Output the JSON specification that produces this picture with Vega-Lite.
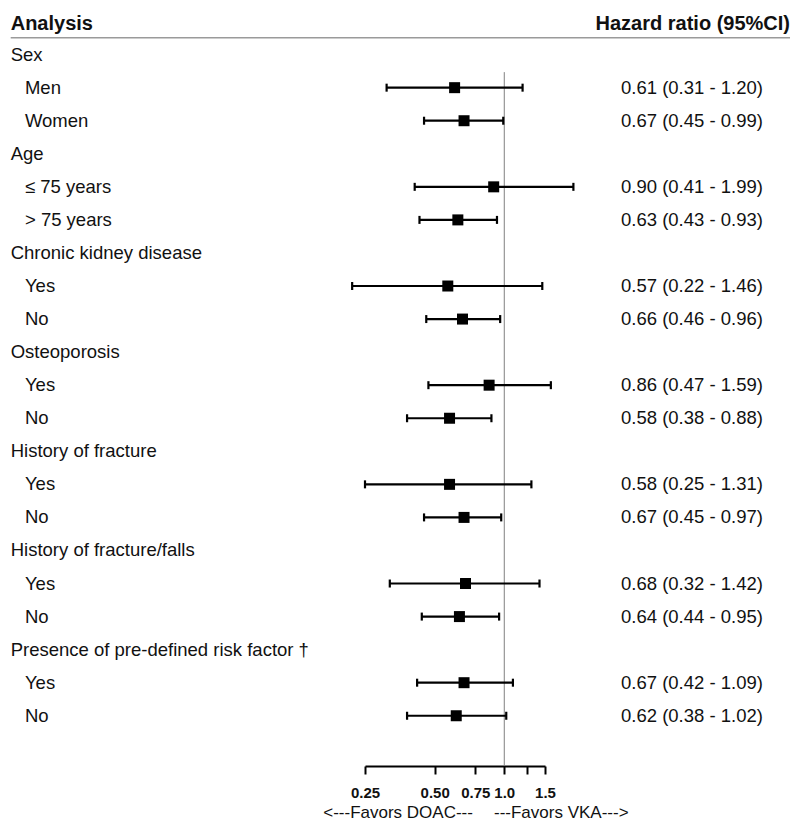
{
  "$schema": "https://vega.github.io/schema/vega-lite/v6.json",
  "autosize": {"type": "none"},
  "width": 180,
  "height": 766,
  "padding": {"left": 365, "right": 255, "top": 0, "bottom": 71},
  "background": "white",
  "config": {
    "view": {"stroke": null},
    "font": "Liberation Sans",
    "text": {"font": "Liberation Sans", "fontSize": 18.5, "color": "#111", "baseline": "middle"}
  },
  "data": {
    "values": [
      {"row": 0, "label": "Sex", "type": "header"},
      {"row": 1, "label": "Men", "type": "item", "hr": 0.61, "lo": 0.31, "hi": 1.20, "ci": "0.61 (0.31 - 1.20)"},
      {"row": 2, "label": "Women", "type": "item", "hr": 0.67, "lo": 0.45, "hi": 0.99, "ci": "0.67 (0.45 - 0.99)"},
      {"row": 3, "label": "Age", "type": "header"},
      {"row": 4, "label": "≤ 75 years", "type": "item", "hr": 0.90, "lo": 0.41, "hi": 1.99, "ci": "0.90 (0.41 - 1.99)"},
      {"row": 5, "label": "> 75 years", "type": "item", "hr": 0.63, "lo": 0.43, "hi": 0.93, "ci": "0.63 (0.43 - 0.93)"},
      {"row": 6, "label": "Chronic kidney disease", "type": "header"},
      {"row": 7, "label": "Yes", "type": "item", "hr": 0.57, "lo": 0.22, "hi": 1.46, "ci": "0.57 (0.22 - 1.46)"},
      {"row": 8, "label": "No", "type": "item", "hr": 0.66, "lo": 0.46, "hi": 0.96, "ci": "0.66 (0.46 - 0.96)"},
      {"row": 9, "label": "Osteoporosis", "type": "header"},
      {"row": 10, "label": "Yes", "type": "item", "hr": 0.86, "lo": 0.47, "hi": 1.59, "ci": "0.86 (0.47 - 1.59)"},
      {"row": 11, "label": "No", "type": "item", "hr": 0.58, "lo": 0.38, "hi": 0.88, "ci": "0.58 (0.38 - 0.88)"},
      {"row": 12, "label": "History of fracture", "type": "header"},
      {"row": 13, "label": "Yes", "type": "item", "hr": 0.58, "lo": 0.25, "hi": 1.31, "ci": "0.58 (0.25 - 1.31)"},
      {"row": 14, "label": "No", "type": "item", "hr": 0.67, "lo": 0.45, "hi": 0.97, "ci": "0.67 (0.45 - 0.97)"},
      {"row": 15, "label": "History of fracture/falls", "type": "header"},
      {"row": 16, "label": "Yes", "type": "item", "hr": 0.68, "lo": 0.32, "hi": 1.42, "ci": "0.68 (0.32 - 1.42)"},
      {"row": 17, "label": "No", "type": "item", "hr": 0.64, "lo": 0.44, "hi": 0.95, "ci": "0.64 (0.44 - 0.95)"},
      {"row": 18, "label": "Presence of pre-defined risk factor †", "type": "header"},
      {"row": 19, "label": "Yes", "type": "item", "hr": 0.67, "lo": 0.42, "hi": 1.09, "ci": "0.67 (0.42 - 1.09)"},
      {"row": 20, "label": "No", "type": "item", "hr": 0.62, "lo": 0.38, "hi": 1.02, "ci": "0.62 (0.38 - 1.02)"}
    ]
  },
  "encoding": {
    "y": {
      "field": "row", "type": "quantitative",
      "scale": {"domain": [-1.652, 21.52], "reverse": true, "nice": false, "zero": false},
      "axis": null
    }
  },
  "layer": [
    {
      "transform": [{"filter": "datum.row === 0"}],
      "mark": {"type": "rule", "color": "#9a9a9a", "strokeWidth": 1.5},
      "encoding": {
        "x": {"datum": 0.00735, "type": "quantitative"},
        "x2": {"datum": 17.19},
        "y": {"datum": -0.511, "type": "quantitative"}
      }
    },
    {
      "transform": [{"filter": "datum.row === 0"}],
      "mark": {"type": "rule", "color": "#808080", "strokeWidth": 1},
      "encoding": {
        "x": {"datum": 1, "type": "quantitative"},
        "y": {"datum": 0.53, "type": "quantitative"},
        "y2": {"datum": 21.52}
      }
    },
    {
      "transform": [{"filter": "datum.type === 'item'"}],
      "mark": {"type": "rule", "color": "black", "strokeWidth": 2.2},
      "encoding": {
        "x": {
          "field": "lo", "type": "quantitative",
          "scale": {"type": "log", "domain": [0.25, 1.5], "nice": false, "zero": false},
          "axis": {
            "values": [0.25, 0.5, 0.75, 1, 1.25, 1.5],
            "labelExpr": "datum.value == 1.25 ? '' : datum.value == 1 ? '1.0' : datum.value == 1.5 ? '1.5' : format(datum.value, '.2f')",
            "title": null,
            "grid": false,
            "domainColor": "black",
            "domainWidth": 2,
            "tickColor": "black",
            "tickWidth": 2,
            "tickSize": 8,
            "labelFont": "Liberation Sans",
            "labelFontWeight": "bold",
            "labelFontSize": 15,
            "labelColor": "#111",
            "labelPadding": 11,
            "labelFlush": false,
            "labelOverlap": false
          }
        },
        "x2": {"field": "hi"}
      }
    },
    {
      "transform": [{"filter": "datum.type === 'item'"}],
      "mark": {"type": "tick", "orient": "vertical", "color": "black", "size": 8, "thickness": 2.2, "opacity": 1},
      "encoding": {"x": {"field": "lo", "type": "quantitative"}}
    },
    {
      "transform": [{"filter": "datum.type === 'item'"}],
      "mark": {"type": "tick", "orient": "vertical", "color": "black", "size": 8, "thickness": 2.2, "opacity": 1},
      "encoding": {"x": {"field": "hi", "type": "quantitative"}}
    },
    {
      "transform": [{"filter": "datum.type === 'item'"}],
      "mark": {"type": "square", "color": "black", "size": 121, "opacity": 1, "filled": true},
      "encoding": {"x": {"field": "hr", "type": "quantitative"}}
    },
    {
      "transform": [{"filter": "datum.type === 'header'"}],
      "mark": {"type": "text", "align": "left"},
      "encoding": {
        "x": {"datum": 0.00735, "type": "quantitative"},
        "text": {"field": "label"}
      }
    },
    {
      "transform": [{"filter": "datum.type === 'item'"}],
      "mark": {"type": "text", "align": "left"},
      "encoding": {
        "x": {"datum": 0.00847, "type": "quantitative"},
        "text": {"field": "label"}
      }
    },
    {
      "transform": [{"filter": "datum.type === 'item'"}],
      "mark": {"type": "text", "align": "right"},
      "encoding": {
        "x": {"datum": 13.13, "type": "quantitative"},
        "text": {"field": "ci"}
      }
    },
    {
      "transform": [{"filter": "datum.row === 0"}],
      "mark": {"type": "text", "align": "left", "fontWeight": "bold", "fontSize": 20},
      "encoding": {
        "x": {"datum": 0.00735, "type": "quantitative"},
        "y": {"datum": -0.926, "type": "quantitative"},
        "text": {"value": "Analysis"}
      }
    },
    {
      "transform": [{"filter": "datum.row === 0"}],
      "mark": {"type": "text", "align": "right", "fontWeight": "bold", "fontSize": 20},
      "encoding": {
        "x": {"datum": 17.19, "type": "quantitative"},
        "y": {"datum": -0.926, "type": "quantitative"},
        "text": {"value": "Hazard ratio (95%CI)"}
      }
    },
    {
      "transform": [{"filter": "datum.row === 0"}],
      "mark": {"type": "text", "align": "right", "fontSize": 17},
      "encoding": {
        "x": {"datum": 0.732, "type": "quantitative"},
        "y": {"datum": 22.95, "type": "quantitative"},
        "text": {"value": "<---Favors DOAC---"}
      }
    },
    {
      "transform": [{"filter": "datum.row === 0"}],
      "mark": {"type": "text", "align": "left", "fontSize": 17},
      "encoding": {
        "x": {"datum": 0.9026, "type": "quantitative"},
        "y": {"datum": 22.95, "type": "quantitative"},
        "text": {"value": "---Favors VKA--->"}
      }
    }
  ]
}
